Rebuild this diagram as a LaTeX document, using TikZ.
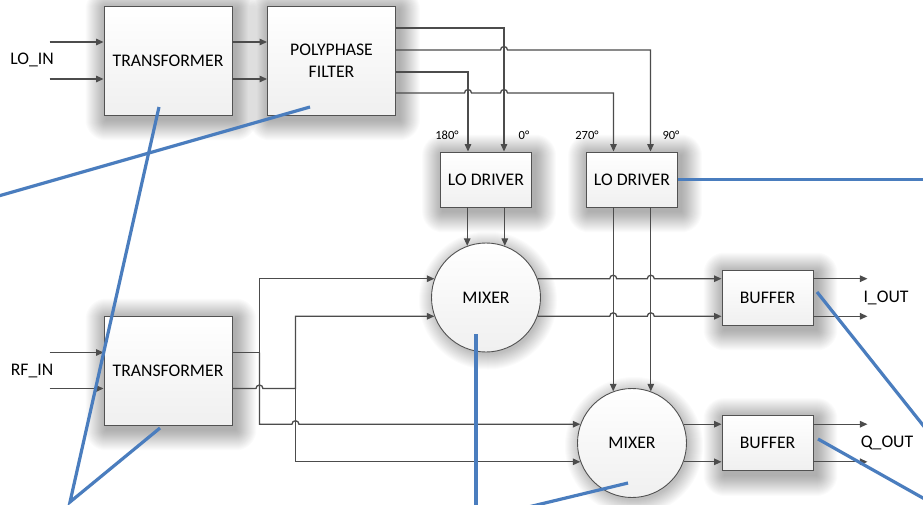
\documentclass[tikz,border=0pt]{standalone}
\usepackage{fontspec}
\setmainfont{Carlito}
\usetikzlibrary{arrows.meta,calc}
\definecolor{callout}{RGB}{74,125,190}
\pgfdeclarelayer{bg}
\pgfsetlayers{bg,main}
\newcommand{\hopover}[1]{-- ($(#1)+(-3.5,0)$) arc[start angle=180,end angle=0,radius=3.5pt]}

\begin{document}
\begin{tikzpicture}[x=1pt,y=1pt,>={Triangle[length=7.5pt,width=6.5pt]},
    block/.style={draw=black!68,line width=0.9pt,top color=white,bottom color=black!6,
      font=\fontsize{17.7}{22}\selectfont,align=center,inner sep=0pt},
    bigbox/.style={block,minimum width=128pt,minimum height=109pt},
    smallbox/.style={block,minimum width=91pt,minimum height=55pt},
    mix/.style={block,circle,minimum size=109pt},
    glow/.style={fill=black,opacity=0.016},
    lbl/.style={font=\fontsize{17.7}{22}\selectfont},
    deg/.style={font=\fontsize{12.5}{14}\selectfont},
    wire/.style={->,color=black!70,line width=1.3pt},
    note/.style={color=callout,line width=3.2pt}]

  \useasboundingbox (0,0) rectangle (923,-504);

  \node[bigbox] (xfrLO)  at (168,-60.5)   {TRANSFORMER};
  \node[bigbox] (filter) at (331.5,-60.5) {POLYPHASE\\FILTER};
  \node[bigbox] (xfrRF)  at (168,-370.5)  {TRANSFORMER};
  \node[smallbox] (lodrv1) at (486,-179.5) {LO DRIVER};
  \node[smallbox] (lodrv2) at (632,-179.5) {LO DRIVER};
  \node[mix] (mixer1) at (486,-297.5) {MIXER};
  \node[mix] (mixer2) at (632,-443)   {MIXER};
  \node[smallbox] (bufI) at (767.5,-297.5) {BUFFER};
  \node[smallbox] (bufQ) at (767.5,-443)   {BUFFER};

  \begin{pgfonlayer}{bg}
    \fill[white] (0,0) rectangle (923,-504);
    \foreach \n in {xfrLO,filter,xfrRF,lodrv1,lodrv2,bufI,bufQ}
      \foreach \i in {1,...,21}
        \fill[glow,rounded corners=\i pt] ($(\n.south west)+(3-\i,-4-\i)$)
          rectangle ($(\n.north east)+(3+\i,-4+\i)$);
    \foreach \n in {mixer1,mixer2}
      \foreach \i in {1,...,16}
        \fill[glow] ($(\n.center)+(2,-3)$) circle[radius=53+\i];
  \end{pgfonlayer}

  \node[lbl] (loin) at (32,-60)  {LO\_IN};
  \node[lbl] (rfin) at (32,-371) {RF\_IN};
  \node[lbl] (iout) at (886,-298) {I\_OUT};
  \node[lbl] (qout) at (887,-443) {Q\_OUT};
  \node[deg] (ph180) at (447,-135) {180°};
  \node[deg] (ph0)   at (524,-135) {0°};
  \node[deg] (ph270) at (587,-135) {270°};
  \node[deg] (ph90)  at (671,-135) {90°};

  \coordinate (f1) at ([yshift=32.5pt]filter.east);
  \coordinate (f2) at ([yshift=10.5pt]filter.east);
  \coordinate (f3) at ([yshift=-11.5pt]filter.east);
  \coordinate (f4) at ([yshift=-32.5pt]filter.east);
  \coordinate (lo1a) at ([xshift=-18pt]lodrv1.north);
  \coordinate (lo1b) at ([xshift=18pt]lodrv1.north);
  \coordinate (lo2a) at ([xshift=-18.5pt]lodrv2.north);
  \coordinate (lo2b) at ([xshift=18.5pt]lodrv2.north);
  \coordinate (t1) at ([yshift=18pt]xfrRF.east);
  \coordinate (t2) at ([yshift=-18pt]xfrRF.east);
  \coordinate (sA) at ([xshift=27pt]xfrRF.east);
  \coordinate (sB) at ([xshift=63pt]xfrRF.east);

  \draw[wire] ([xshift=-54pt,yshift=18.5pt]xfrLO.west) -- ([yshift=18.5pt]xfrLO.west);
  \draw[wire] ([xshift=-54pt,yshift=-18.5pt]xfrLO.west) -- ([yshift=-18.5pt]xfrLO.west);
  \draw[wire] ([yshift=18.5pt]xfrLO.east) -- ([yshift=18.5pt]filter.west);
  \draw[wire] ([yshift=-18.5pt]xfrLO.east) -- ([yshift=-18.5pt]filter.west);
  \draw[wire] ([xshift=-54pt,yshift=18pt]xfrRF.west) -- ([yshift=18pt]xfrRF.west);
  \draw[wire] ([xshift=-54pt,yshift=-18pt]xfrRF.west) -- ([yshift=-18pt]xfrRF.west);

  \draw[wire] (f1) -| (lo1b);
  \draw[wire] (f2) \hopover{lo1b |- f2} -| (lo2b);
  \draw[wire] (f3) -| (lo1a);
  \draw[wire] (f4) \hopover{lo1a |- f4} \hopover{lo1b |- f4} -| (lo2a);

  \draw[wire] (mixer1.110 |- lodrv1.south) -- (mixer1.110);
  \draw[wire] (mixer1.70 |- lodrv1.south) -- (mixer1.70);
  \draw[wire] (mixer2.110 |- lodrv2.south) -- (mixer2.110);
  \draw[wire] (mixer2.70 |- lodrv2.south) -- (mixer2.70);

  \draw[wire] (t1) -| (sA |- mixer1.160) -- (mixer1.160);
  \draw[wire] (sA |- t1) -- (sA |- mixer2.160) \hopover{sB |- mixer2.160} -- (mixer2.160);
  \draw[wire] (t2) \hopover{sA |- t2} -| (sB |- mixer1.200) -- (mixer1.200);
  \draw[wire] (sB |- t2) -- (sB |- mixer2.200) -- (mixer2.200);

  \draw[wire] (mixer1.20) \hopover{mixer2.110 |- mixer1.20} \hopover{mixer2.70 |- mixer1.20} -- (mixer1.20 -| bufI.west);
  \draw[wire] (mixer1.340) \hopover{mixer2.110 |- mixer1.340} \hopover{mixer2.70 |- mixer1.340} -- (mixer1.340 -| bufI.west);
  \draw[wire] (mixer2.20) -- (mixer2.20 -| bufQ.west);
  \draw[wire] (mixer2.340) -- (mixer2.340 -| bufQ.west);
  \draw[wire] (mixer1.20 -| bufI.east) -- ++(54,0);
  \draw[wire] (mixer1.340 -| bufI.east) -- ++(54,0);
  \draw[wire] (mixer2.20 -| bufQ.east) -- ++(54,0);
  \draw[wire] (mixer2.340 -| bufQ.east) -- ++(54,0);

  \draw[note] (310,-107) -- (-5,-197);
  \draw[note] (159,-107) -- (70,-502) -- (160,-428);
  \draw[note] (lodrv2.east) -- ++(260,0);
  \draw[note] (476,-334) -- (476,-510);
  \draw[note] (628,-483) -- (520,-509);
  \draw[note] (817,-292) -- (930,-434);
  \draw[note] (818,-439) -- (930,-502);
\end{tikzpicture}
\end{document}
